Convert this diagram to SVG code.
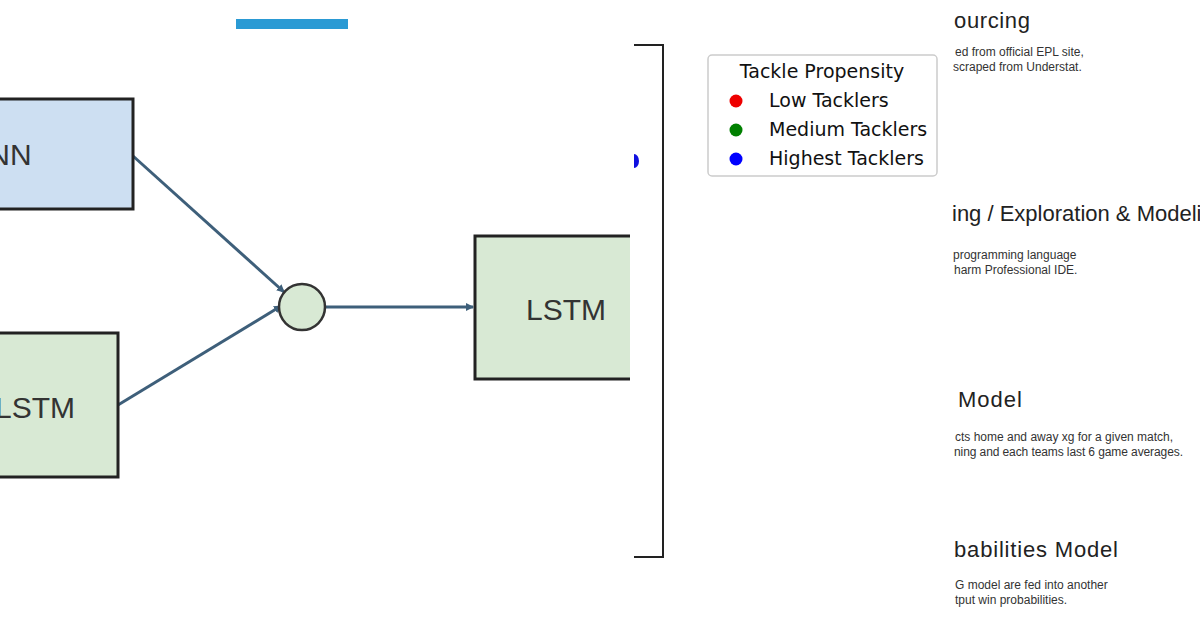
<svg xmlns="http://www.w3.org/2000/svg" width="1200" height="630" viewBox="0 0 1200 630">
<style>
.box{stroke:#222;stroke-width:3}
.lbl{font-family:"Liberation Sans",Arial,sans-serif;font-size:30px;fill:#333;text-anchor:middle}
.conn{stroke:#3e5f7a;stroke-width:3;fill:none}
.lg{font-family:"DejaVu Sans",sans-serif;font-size:19px;fill:#111}
.h{font-family:"Liberation Sans",Arial,sans-serif;font-size:22px;fill:#222}
.s{font-family:"Liberation Sans",Arial,sans-serif;font-size:12px;fill:#333}
</style>
<defs>
<marker id="ar" markerWidth="8" markerHeight="8" refX="7" refY="4" orient="auto" markerUnits="userSpaceOnUse"><path d="M0,0 L8,4 L0,8 z" fill="#3e5f7a"/></marker>
<clipPath id="cl"><rect x="0" y="0" width="630" height="630"/></clipPath>
</defs>
<rect width="1200" height="630" fill="#fff"/>
<rect x="236" y="19" width="112" height="10" fill="#2a9ad4"/>
<g clip-path="url(#cl)">
<g id="connectors">
<line class="conn" x1="133" y1="156" x2="284" y2="292" marker-end="url(#ar)"/>
<line class="conn" x1="118" y1="405" x2="281" y2="306" marker-end="url(#ar)"/>
<line class="conn" x1="325" y1="307" x2="473" y2="307" marker-end="url(#ar)"/>
</g>
<g id="nn"><rect class="box" x="-20" y="99" width="153" height="110" fill="#cddff2"/><text class="lbl" x="10" y="165">NN</text></g>
<g id="lstm1"><rect class="box" x="-20" y="333" width="138" height="144" fill="#d8e9d4"/><text class="lbl" x="35" y="418">LSTM</text></g>
<g id="merge"><circle cx="302" cy="307" r="23" fill="#d8e9d4" stroke="#333" stroke-width="2.5"/></g>
<g id="lstm2"><rect class="box" x="475" y="236" width="180" height="143" fill="#d8e9d4"/><text class="lbl" x="566" y="320">LSTM</text></g>
</g>
<path d="M634,154 A5,7 0 0 1 634,168 Z" fill="#1010e0"/>
<path d="M634,45 H663 V557 H634" fill="none" stroke="#222" stroke-width="2"/>
<g id="legend">
<rect x="708" y="55" width="229" height="121" rx="4" fill="#fff" stroke="#ccc" stroke-width="1.5"/>
<text class="lg" x="822" y="78" text-anchor="middle">Tackle Propensity</text>
<circle cx="736" cy="101" r="6.5" fill="#e00"/><text class="lg" x="769" y="107">Low Tacklers</text>
<circle cx="736" cy="130" r="6.5" fill="#008000"/><text class="lg" x="769" y="136">Medium Tacklers</text>
<circle cx="736" cy="159" r="6.5" fill="#00f"/><text class="lg" x="769" y="165">Highest Tacklers</text>
</g>
<g id="notes">
<text class="h" x="954" y="28" textLength="76">ourcing</text>
<text class="s" x="955" y="56">ed from official EPL site,</text>
<text class="s" x="953" y="71">scraped from Understat.</text>
<text class="h" x="952" y="221" font-size="20">ing / Exploration &amp; Modeling</text>
<text class="s" x="953" y="259">programming language</text>
<text class="s" x="954" y="274">harm Professional IDE.</text>
<text class="h" x="958" y="407" textLength="64">Model</text>
<text class="s" x="955" y="441">cts home and away xg for a given match,</text>
<text class="s" x="954" y="456" textLength="229">ning and each teams last 6 game averages.</text>
<text class="h" x="954" y="557" textLength="164">babilities Model</text>
<text class="s" x="955" y="589">G model are fed into another</text>
<text class="s" x="955" y="604">tput win probabilities.</text>
</g>
</svg>
